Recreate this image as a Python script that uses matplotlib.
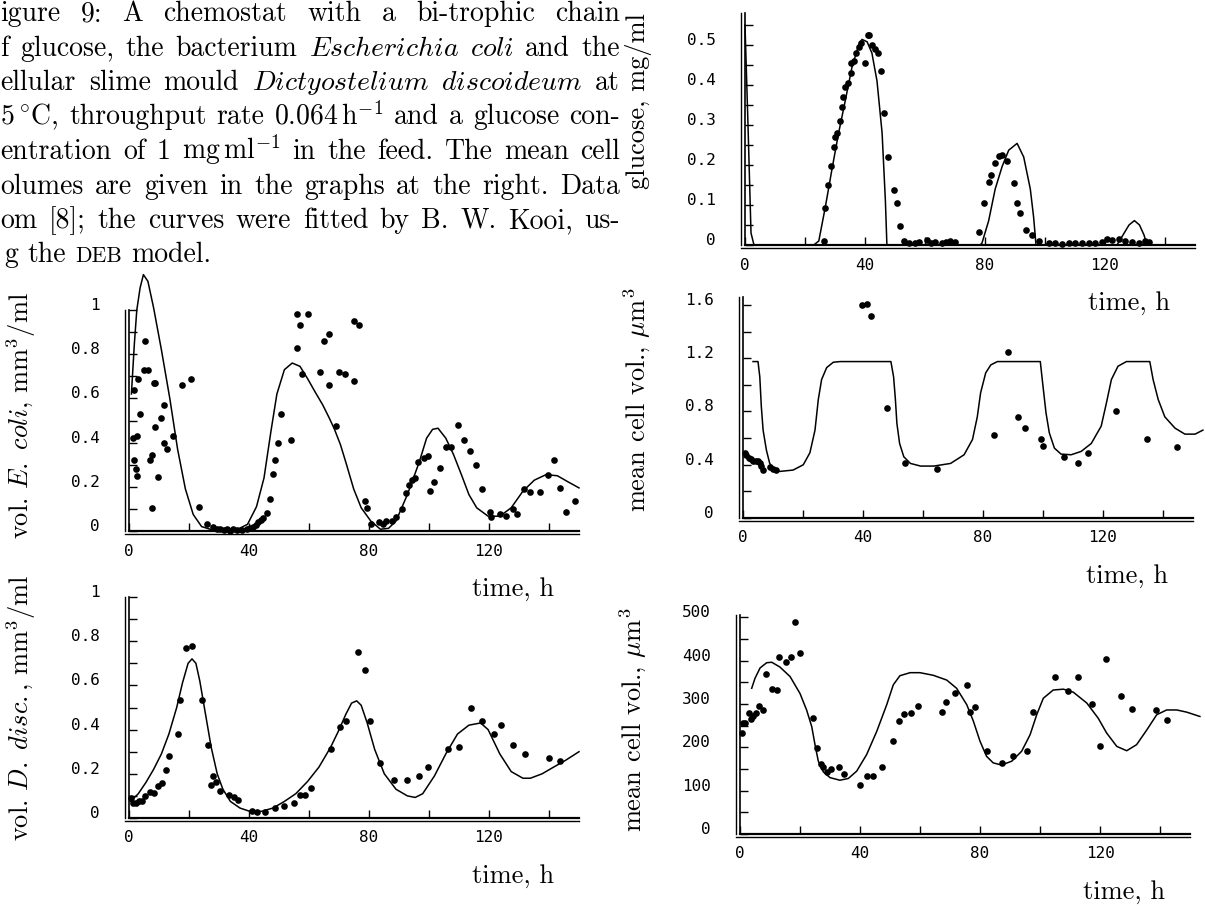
import matplotlib
matplotlib.use('Agg')
import matplotlib.pyplot as plt
import matplotlib.transforms as mtransforms

plt.rcParams['font.family'] = ['cmr10', 'DejaVu Serif']
plt.rcParams['mathtext.fontset'] = 'cm'
plt.rcParams['axes.unicode_minus'] = False
plt.rcParams['axes.formatter.use_mathtext'] = True

# ---- data (time in h) ----
# glucose, mg/ml
gluc_t = [0, 1, 2, 3, 22.9, 24.6, 26.8, 29.0, 31.2, 33.4, 35.7, 37.9, 39.0, 40.7, 42.3, 44.0, 45.7, 46.8, 47.3,
          78.4, 79.0, 81.2, 83.4, 85.7, 87.9, 90.7, 92.9, 95.1, 96.2, 97.0,
          124.0, 126.0, 128.0, 129.8, 131.5, 133.0, 134.0, 150]
gluc_v = [0.55, 0.3, 0.03, 0, 0, 0.01, 0.096, 0.19, 0.28, 0.36, 0.446, 0.5, 0.514, 0.508, 0.48, 0.41, 0.28, 0.11, 0,
          0, 0.005, 0.06, 0.14, 0.196, 0.237, 0.254, 0.22, 0.14, 0.07, 0,
          0, 0.025, 0.05, 0.061, 0.05, 0.025, 0, 0]
gluc_obs_t = [26.2, 26.8, 27.7, 28.8, 29.6, 30.1, 30.7, 31.6, 32.3, 32.6, 33.4, 34.2, 35.4, 35.4, 36.2, 37.0, 37.9, 38.8,
              40.1, 40.9, 41.2, 42.3, 43.4, 44.3, 45.4, 46.2, 47.7, 49.6, 50.7, 51.8, 52.9, 54.6, 56.5, 58.0, 60.7, 62.0,
              63.4, 65.7, 67.0, 68.4, 70.1, 77.9, 79.6, 81.4, 82.1, 83.4, 84.6, 85.7, 87.3, 89.6, 90.7, 91.8, 93.8, 95.7,
              98.1, 101.2, 103.4, 105.7, 107.9, 110.1, 112.3, 114.6, 116.8, 119.0, 120.7, 122.3, 124.6, 126.8, 129.0,
              131.2, 133.4, 134.6]
gluc_obs_v = [0.011, 0.092, 0.15, 0.198, 0.246, 0.27, 0.28, 0.31, 0.346, 0.37, 0.394, 0.404, 0.43, 0.456, 0.46, 0.48,
              0.496, 0.504, 0.456, 0.525, 0.525, 0.5, 0.49, 0.48, 0.436, 0.33, 0.22, 0.138, 0.106, 0.048, 0.011, 0.005,
              0.006, 0.008, 0.012, 0.006, 0.007, 0.006, 0.008, 0.01, 0.008, 0.032, 0.104, 0.158, 0.175, 0.204, 0.222,
              0.225, 0.21, 0.154, 0.106, 0.079, 0.038, 0.025, 0.011, 0.004, 0.005, 0.003, 0.004, 0.005, 0.004, 0.006,
              0.005, 0.008, 0.015, 0.012, 0.015, 0.01, 0.008, 0.006, 0.009, 0.007]

# vol. E. coli, mm3/ml
ecoli_t = [0.8, 1.8, 2.6, 3.7, 4.8, 6.3, 8.2, 10.8, 13.6, 16.2, 18.8, 21.4, 24.2, 27.5, 32, 36.5, 39.5, 42.5, 45, 47.3,
           49.3, 51.8, 54.4, 57, 59.5, 62, 64.6, 66.8, 68.5, 70.5, 72.3, 74.9, 77.4, 80.6, 83.8, 86.5, 89, 92.8, 96.7,
           99.2, 101.2, 103, 105.6, 108.2, 110.8, 113.3, 115.9, 119.7, 123.6, 127.4, 131.3, 135.1, 139, 142.8, 146, 150]
ecoli_v = [0.62, 0.85, 1.0, 1.10, 1.16, 1.13, 1.01, 0.82, 0.6, 0.37, 0.19, 0.075, 0.02, 0.006, 0.003, 0.01, 0.03, 0.11,
           0.24, 0.45, 0.62, 0.73, 0.76, 0.745, 0.69, 0.63, 0.57, 0.51, 0.46, 0.39, 0.31, 0.19, 0.105, 0.045, 0.008,
           0.012, 0.045, 0.165, 0.31, 0.42, 0.46, 0.465, 0.42, 0.345, 0.255, 0.165, 0.105, 0.067, 0.067, 0.105, 0.18,
           0.23, 0.255, 0.25, 0.225, 0.195]
ecoli_obs_t = [1.2, 1.5, 1.8, 2.4, 2.5, 2.7, 3.1, 3.7, 5.0, 5.4, 6.3, 6.9, 7.6, 7.8, 8.2, 8.8, 8.8, 9.7, 10.8, 11.8,
               11.8, 12.7, 14.6, 17.8, 20.6, 23.2,
               25.9, 28.0, 29.2, 30.3, 31.5, 32.6, 33.7, 34.8, 36.0, 37.5, 39.2, 40.3, 41.4, 42.3, 43.1, 44.0, 44.8,
               45.9, 47.0, 47.9, 48.8, 49.8, 50.7, 54.0,
               55.9, 55.9, 56.9, 57.8, 59.5, 63.7, 65.0, 66.8, 66.8, 69.1, 70.0, 71.9, 74.9, 74.9, 76.8, 78.5, 79.4,
               80.6, 83.2, 84.5, 85.8, 87.7, 89.0, 90.9, 92.2, 93.2, 94.4, 95.4, 96.4, 98.2, 99.5, 100.3, 101.8,
               103.7, 105.6, 107.2, 109.5, 111.7, 113.6, 115.6, 117.8, 120.4, 120.8, 123.6, 125.5, 128.1, 129.4,
               131.5, 133.8, 137.0, 139.6, 141.5, 143.5, 145.6, 148.6]
ecoli_obs_v = [0.42, 0.64, 0.32, 0.28, 0.25, 0.43, 0.69, 0.53, 0.73, 0.86, 0.73, 0.32, 0.345, 0.105, 0.67, 0.67, 0.47,
               0.245, 0.51, 0.57, 0.40, 0.37, 0.43, 0.66, 0.69, 0.11,
               0.032, 0.018, 0.01, 0.009, 0.004, 0.007, 0.0, 0.007, 0.005, 0.006, 0.009, 0.012, 0.018, 0.025, 0.04,
               0.05, 0.06, 0.08, 0.146, 0.26, 0.32, 0.40, 0.53, 0.41,
               0.83, 0.98, 0.93, 0.71, 0.98, 0.72, 0.86, 0.89, 0.66, 0.475, 0.72, 0.71, 0.68, 0.95, 0.93, 0.135, 0.105,
               0.033, 0.04, 0.033, 0.044, 0.044, 0.064, 0.1, 0.17, 0.21, 0.23, 0.24, 0.31, 0.33, 0.34, 0.18, 0.22,
               0.285, 0.38, 0.38, 0.48, 0.41, 0.36, 0.30, 0.19, 0.085, 0.063, 0.075, 0.067, 0.10, 0.078, 0.19, 0.177,
               0.177, 0.255, 0.32, 0.195, 0.087, 0.135]

# mean cell vol. of E. coli, um3
ecvol_t = [3.35, 5.0, 5.6, 6.1, 6.7, 7.8, 8.9, 10.6, 12.3, 16.7, 20.1, 22.3, 24.0, 25.1, 26.2, 27.9, 30.1, 32.4, 49.3,
           50.2, 50.8, 51.3, 52.2, 53.6, 55.8, 59.2, 63.6, 69.2, 73.7, 76.5, 78.1, 79.2, 80.9, 82.6, 84.8, 99.1, 99.9,
           101.0, 102.1, 103.8, 106.0, 109.4, 112.7, 116.1, 119.4, 121.1, 122.8, 125.0, 127.8, 135.6, 136.7, 138.4,
           140.6, 144.0, 147.3, 150.7, 153.3]
ecvol_v = [1.175, 1.175, 1.06, 0.84, 0.66, 0.51, 0.41, 0.36, 0.35, 0.36, 0.40, 0.49, 0.66, 0.89, 1.04, 1.13, 1.17, 1.175,
           1.175, 1.06, 0.89, 0.71, 0.56, 0.46, 0.41, 0.39, 0.39, 0.41, 0.475, 0.59, 0.76, 0.94, 1.09, 1.15, 1.175,
           1.175, 1.01, 0.79, 0.64, 0.525, 0.48, 0.475, 0.50, 0.56, 0.69, 0.86, 1.04, 1.14, 1.175, 1.175, 1.04, 0.89,
           0.76, 0.675, 0.63, 0.63, 0.66]
ecvol_obs_t = [0.6, 1.1, 2.0, 2.8, 3.3, 4.2, 5.0, 5.6, 6.1, 6.7, 8.9, 10.0, 10.9, 39.8, 41.3, 42.7, 48.0, 53.9, 64.5,
               83.7, 88.2, 91.7, 94.0, 99.3, 99.9, 107.1, 111.6, 115.0, 124.2, 134.8, 144.5]
ecvol_obs_v = [0.49, 0.475, 0.45, 0.44, 0.43, 0.425, 0.425, 0.41, 0.39, 0.36, 0.38, 0.37, 0.36, 1.60, 1.61, 1.52, 0.825,
               0.41, 0.37, 0.62, 1.25, 0.76, 0.675, 0.59, 0.54, 0.455, 0.41, 0.49, 0.80, 0.595, 0.53]

# vol. D. disc., mm3/ml
ddisc_t = [0.5, 3.1, 5.6, 8.2, 10.8, 13.3, 15.9, 17.8, 19.7, 21.0, 22.3, 23.6, 25.5, 27.4, 29.4, 31.3, 33.8, 37.0, 40.3,
           44.1, 48.0, 51.8, 55.6, 59.5, 63.3, 67.2, 69.7, 72.3, 74.2, 75.9, 77.4, 79.4, 81.9, 85.1, 89.0, 92.8, 95.4,
           97.9, 101.8, 105.6, 109.5, 113.3, 117.2, 119.7, 123.6, 127.4, 131.3, 133.8, 137.7, 141.5, 145.4, 150.0]
ddisc_v = [0.075, 0.11, 0.16, 0.22, 0.29, 0.38, 0.50, 0.61, 0.70, 0.72, 0.70, 0.62, 0.47, 0.32, 0.20, 0.13, 0.075, 0.045,
           0.03, 0.03, 0.045, 0.075, 0.11, 0.165, 0.23, 0.32, 0.39, 0.47, 0.52, 0.53, 0.51, 0.43, 0.31, 0.20, 0.13, 0.10,
           0.093, 0.11, 0.19, 0.29, 0.38, 0.42, 0.43, 0.40, 0.29, 0.21, 0.18, 0.18, 0.20, 0.23, 0.26, 0.30]
ddisc_obs_t = [0.5, 1.2, 2.4, 3.3, 4.4, 5.3, 6.9, 8.2, 9.5, 11.0, 12.3, 13.3, 16.2, 16.9, 19.1, 21.0, 24.2, 26.4, 27.4,
               28.1, 29.0, 30.3, 33.2, 34.9, 36.4, 40.9, 42.8, 45.4, 48.6, 51.8, 55.0, 56.9, 58.8, 60.5, 67.4, 70.4,
               72.3, 76.4, 78.5, 80.4, 83.8, 88.3, 92.6, 96.7, 99.5, 106.3, 110.1, 114.0, 117.8, 121.7, 124.0, 128.1,
               131.9, 140.0, 143.8]
ddisc_obs_v = [0.09, 0.07, 0.068, 0.075, 0.075, 0.10, 0.116, 0.113, 0.146, 0.158, 0.215, 0.28, 0.38, 0.534, 0.77, 0.78,
               0.534, 0.33, 0.15, 0.19, 0.165, 0.12, 0.105, 0.093, 0.083, 0.03, 0.026, 0.026, 0.045, 0.056, 0.07, 0.105,
               0.105, 0.135, 0.31, 0.41, 0.44, 0.75, 0.67, 0.44, 0.25, 0.17, 0.17, 0.19, 0.23, 0.31, 0.32, 0.50, 0.44,
               0.38, 0.42, 0.33, 0.29, 0.27, 0.26]

# mean cell vol. of D. disc., um3
ddvol_t = [3.9, 5.0, 6.7, 8.9, 10.6, 13.3, 16.7, 20.0, 22.2, 23.9, 25.0, 26.1, 27.8, 30.0, 33.3, 36.1, 38.9, 42.2, 45.6,
           48.9, 51.1, 53.3, 56.7, 60.0, 64.4, 68.9, 72.2, 75.6, 77.8, 80.0, 82.2, 84.4, 87.2, 90.6, 93.9, 96.7, 98.9,
           101.1, 104.4, 107.8, 111.1, 115.6, 119.4, 122.2, 125.6, 128.9, 132.2, 135.6, 138.9, 142.2, 145.6, 148.9, 153.3]
ddvol_v = [336, 359, 383, 395, 396, 385, 363, 324, 286, 248, 206, 168, 143, 130, 124, 128, 145, 183, 237, 298, 344, 365,
           372, 372, 366, 355, 336, 298, 260, 214, 179, 164, 159, 168, 191, 229, 275, 313, 332, 334, 327, 302, 267, 233,
           202, 192, 206, 240, 275, 286, 286, 281, 271]
ddvol_obs_t = [0.6, 1.1, 1.7, 3.1, 3.6, 4.4, 5.3, 6.4, 7.8, 8.6, 10.6, 12.4, 13.0, 15.3, 16.9, 18.3, 20.0, 24.2, 25.6,
               26.9, 27.8, 28.9, 30.3, 33.1, 34.7, 40.0, 42.4, 44.2, 47.2, 50.9, 53.0, 54.7, 57.0, 59.4, 67.2, 68.7,
               71.7, 75.6, 76.7, 78.3, 82.2, 87.2, 91.1, 95.6, 97.6, 105.0, 109.4, 112.6, 117.4, 120.0, 122.0, 126.9,
               130.6, 138.6, 142.2]
ddvol_obs_v = [233, 256, 256, 279, 266, 271, 280, 295, 286, 368, 334, 331, 408, 397, 409, 488, 418, 267, 198, 162, 155,
               143, 150, 155, 139, 112, 134, 134, 154, 214, 261, 277, 279, 295, 282, 305, 326, 344, 282, 292, 192, 163,
               179, 191, 282, 361, 330, 361, 299, 202, 403, 318, 288, 285, 263]

x_ticks = [0, 40, 80, 120]
x_labels = ['0', '40', '80', '120']

caption = [
    r"Figure 9: A chemostat with a bi-trophic chain",
    r"of glucose, the bacterium $\mathit{Escherichia}$ $\mathit{coli}$ and the",
    r"cellular slime mould $\mathit{Dictyostelium}$ $\mathit{discoideum}$ at",
    r"25$\,^{\circ}$C, throughput rate 0.064$\,$h$^{-1}$ and a glucose con-",
    r"centration of 1 mg$\,$ml$^{-1}$ in the feed. The mean cell",
    r"volumes are given in the graphs at the right. Data",
    r"from [8]; the curves were fitted by B. W. Kooi, us-",
    r"ing the DEB model.",
]
# first letters lost at the left edge of the scanned page
cap_cut = ['F', 'o', 'c', '2', 'c', 'v', 'fr', 'in']

W, H = 1205, 906
fig = plt.figure(figsize=(W / 100, H / 100), dpi=100)
ident = mtransforms.IdentityTransform()
TXT = 19
CAP = 20.0


def shift(tr, dx, dy):
    # shift a transform by pixels
    return tr + mtransforms.ScaledTranslation(dx / 100, dy / 100, fig.dpi_scale_trans)


def panel(x0, ytop, ybot, ylim, ymaj, ylab, ymin):
    ax = fig.add_axes([x0 / W, 1 - ybot / H, 450 / W, (ybot - ytop) / H])
    ax.set_xlim(0, 150)
    ax.set_ylim(*ylim)
    ax.patch.set_visible(False)
    for s in ['top', 'right']:
        ax.spines[s].set_visible(False)
    ax.spines['left'].set_linewidth(1.2)
    ax.spines['bottom'].set_linewidth(1.6)
    ax.set_xticks(x_ticks)
    ax.set_xticklabels(x_labels)
    ax.set_xticks([20, 60, 100, 140], minor=True)
    ax.set_yticks(ymaj)
    ax.set_yticklabels(ylab)
    ax.set_yticks(ymin, minor=True)
    ax.tick_params(which='both', direction='in', length=6, width=1.0, labelsize=11.5,
                   labelfontfamily='DejaVu Sans Mono')
    ax.tick_params(axis='y', pad=21)
    ax.tick_params(axis='x', pad=9)
    for lab in ax.get_yticklabels():
        lab.set_transform(shift(lab.get_transform(), 0, 6))
    # the doubled frame lines of the scanned plot
    ax.plot([0, 0], [0, 1], transform=shift(ax.transAxes, -4, 0), color='k', lw=1.0, clip_on=False)
    ax.plot([-0.01, 1], [0, 0], transform=shift(ax.transAxes, 0, -3), color='k', lw=1.0, clip_on=False)
    # "time, h" under the axis, at the right
    fig.text(x0 + 450 - 25, H - (ybot + 58), 'time, h', transform=ident, fontsize=TXT,
             ha='right', va='center')
    return ax


def draw(ax, t, v, ot, ov):
    ax.plot(t, v, color='k', lw=1.1, clip_on=False)
    ax.plot(ot, ov, 'o', color='k', ms=4.8, mew=0, clip_on=False)


unit_lab = ['0', '0.2', '0.4', '0.6', '0.8', '1']
unit_maj = [0, 0.2, 0.4, 0.6, 0.8, 1.0]
unit_min = [0.1, 0.3, 0.5, 0.7, 0.9]

ax1 = panel(745, 13, 245, (0, 0.58), [0, 0.1, 0.2, 0.3, 0.4, 0.5],
            ['0', '0.1', '0.2', '0.3', '0.4', '0.5'], [0.05, 0.15, 0.25, 0.35, 0.45, 0.55])
draw(ax1, gluc_t, gluc_v, gluc_obs_t, gluc_obs_v)

ax2 = panel(129, 310, 531, (0, 1), unit_maj, unit_lab, unit_min)
draw(ax2, ecoli_t, ecoli_v, ecoli_obs_t, ecoli_obs_v)

ax3 = panel(743, 297, 518, (0, 1.66), [0, 0.4, 0.8, 1.2, 1.6], ['0', '0.4', '0.8', '1.2', '1.6'],
            [0.2, 0.6, 1.0, 1.4])
draw(ax3, ecvol_t, ecvol_v, ecvol_obs_t, ecvol_obs_v)

ax4 = panel(129, 597, 818, (0, 1), unit_maj, unit_lab, unit_min)
draw(ax4, ddisc_t, ddisc_v, ddisc_obs_t, ddisc_obs_v)

ax5 = panel(740, 615, 834, (0, 505), [0, 100, 200, 300, 400, 500], ['0', '100', '200', '300', '400', '500'],
            [50, 150, 250, 350, 450])
draw(ax5, ddvol_t, ddvol_v, ddvol_obs_t, ddvol_obs_v)

# y axis titles
ylabs = [(638, 101, r'glucose, mg/ml'),
         (21, 416, r'vol. $\mathit{E.\ coli}$, mm$^3$/ml'),
         (637, 400, r'mean cell vol., $\mu$m$^3$'),
         (21, 708, r'vol. $\mathit{D.\ disc.}$, mm$^3$/ml'),
         (633, 720, r'mean cell vol., $\mu$m$^3$')]
for x, y, s in ylabs:
    fig.text(x, H - y, s, transform=ident, fontsize=TXT, rotation=90, ha='center', va='center')

# caption, justified like the typeset original; the page edge hides
# the first letters of every line
cap_left, cap_right = -19, 620
renderer = fig.canvas.get_renderer()
for i, line in enumerate(caption):
    words = line.split()
    pre = fig.text(0, 0, cap_cut[i], transform=ident, fontsize=CAP)
    x0 = max(0.5, cap_left + pre.get_window_extent(renderer).width)
    pre.remove()
    words[0] = words[0][len(cap_cut[i]):]
    yb = H - (21 + i * 34.5)
    arts = []
    for w in words:
        fs = CAP * 0.78 if w == 'DEB' else CAP
        arts.append(fig.text(0, yb, w, transform=ident, fontsize=fs, ha='left', va='baseline'))
    widths = [a.get_window_extent(renderer).width for a in arts]
    if i < len(caption) - 1:
        gap = (cap_right - x0 - sum(widths)) / (len(words) - 1)
    else:
        gap = 0.33 * CAP * 100 / 72
    x = x0
    for a, wd in zip(arts, widths):
        a.set_x(x)
        x += wd + gap

fig.savefig('out.png', dpi=100)
